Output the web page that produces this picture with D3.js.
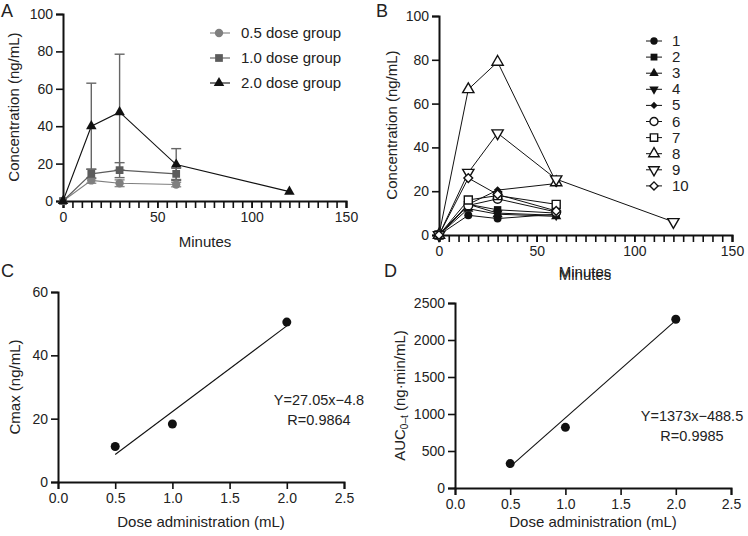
<!DOCTYPE html>
<html>
<head>
<meta charset="utf-8">
<script src="https://cdn.jsdelivr.net/npm/d3@7"></script>
<style>
  body { margin: 0; background: #fff; }
  text { font-family: "Liberation Sans", Arial, sans-serif; fill: #222; }
</style>
</head>
<body>
<svg id="chart" width="748" height="536"></svg>
<script>
// ---- panel A: group means +/- SD
const timesA = [0, 15, 30, 60, 120];
const groupNames = ["0.5 dose group", "1.0 dose group", "2.0 dose group"];
const mean05 = [0, 11, 9.5, 8.8];
const sd05 = [0, 1.5, 1.8, 1.2];
const mean10 = [0, 14.5, 16.5, 14.5];
const sd10 = [0, 2.5, 4, 3];
const mean20 = [0, 40, 47.5, 19.5, 5];
const sd20 = [0, 23, 31, 8.5, 0];

// ---- panel B: individual animals
const timesB = [0, 15, 30, 60, 120];
const subjects = ["1", "2", "3", "4", "5", "6", "7", "8", "9", "10"];
const s1 = [0, 9, 7.5, 9.5];
const s2 = [0, 14, 11.5, 10];
const s3 = [0, 12, 9.5, 8.5];
const s4 = [0, 14, 10, 9];
const s5 = [0, 14, 20.5, 23.5];
const s6 = [0, 13.5, 16.5, 10.5];
const s7 = [0, 16, 18, 14];
const s8 = [0, 66.5, 79, 24];
const s9 = [0, 28.5, 46.5, 25.5, 6];
const s10 = [0, 26, 18.5, 11];

// ---- panels C / D: dose relations
const doses = [0.5, 1.0, 2.0];
const cmax = [11.2, 18.3, 50.5];
const auc = [330, 820, 2280];
const fitC = [8.7, 49.3];     // fitted line at dose 0.5 and 2.0
const fitD = [290, 2265];
const eqC = ["Y=27.05x\u22124.8", "R=0.9864"];
const eqD = ["Y=1373x\u2212488.5", "R=0.9985"];

const svg = d3.select("#chart");
const FS = 14;      // tick labels
const LS = 15;      // axis titles, legends

function axes(g, x, y, xt, yt, xfmt, minor) {
  const ax = g.append("g").attr("transform", `translate(0,${y.range()[0]})`)
    .call(d3.axisBottom(x).tickValues(xt).tickFormat(xfmt).tickSizeOuter(0).tickSize(7).tickPadding(4));
  if (minor) {
    g.append("g").attr("transform", `translate(0,${y.range()[0]})`)
      .call(d3.axisBottom(x).tickValues(minor).tickFormat("").tickSizeOuter(0).tickSize(7))
      .call(s => s.select(".domain").remove());
  }
  const ay = g.append("g").attr("transform", `translate(${x.range()[0]},0)`)
    .call(d3.axisLeft(y).tickValues(yt).tickFormat(d3.format("d")).tickSizeOuter(0).tickSize(7).tickPadding(3));
  [ax, ay].forEach(a => {
    a.select(".domain").attr("stroke", "#111").attr("stroke-width", 2);
    a.selectAll(".tick text").style("font-size", FS + "px").attr("fill", "#222");
  });
  g.selectAll(".tick line").attr("stroke", "#111").attr("stroke-width", 1.6);
}

function sym(type, size) { return d3.symbol().type(type).size(size)(); }

function panelLetter(t, x, y) {
  svg.append("text").attr("x", x).attr("y", y).text(t).style("font-size", "18px");
}

// ================= A =================
{
  const g = svg.append("g");
  const x = d3.scaleLinear().domain([0, 150]).range([63, 346]);
  const y = d3.scaleLinear().domain([0, 100]).range([201, 14]);
  axes(g, x, y, [0, 50, 100, 150], [0, 20, 40, 60, 80, 100], d3.format("d"), d3.range(0, 151, 5));

  const groups = [
    { m: mean05, sd: sd05, col: "#7f7f7f", bar: "#8a8a8a", shape: d3.symbolCircle, size: 55 },
    { m: mean10, sd: sd10, col: "#5c5c5c", bar: "#6a6a6a", shape: d3.symbolSquare, size: 60 },
    { m: mean20, sd: sd20, col: "#111", bar: "#666", shape: d3.symbolTriangle, size: 48 }
  ];
  const line = d3.line().x((d, i) => x(timesA[i])).y(d => y(d));
  // error bars
  groups.slice().reverse().forEach(gr => {
    gr.m.forEach((v, i) => {
      if (!gr.sd[i]) return;
      const xx = x(timesA[i]);
      [v + gr.sd[i], v - gr.sd[i]].forEach(e => {
        g.append("line").attr("x1", xx).attr("x2", xx).attr("y1", y(v)).attr("y2", y(e))
          .attr("stroke", gr.bar).attr("stroke-width", 1.4);
        g.append("line").attr("x1", xx - 5).attr("x2", xx + 5).attr("y1", y(e)).attr("y2", y(e))
          .attr("stroke", gr.bar).attr("stroke-width", 1.4);
      });
    });
  });
  groups.forEach(gr => {
    g.append("path").attr("d", line(gr.m)).attr("fill", "none").attr("stroke", gr.col).attr("stroke-width", 1.1);
    g.selectAll(null).data(gr.m).enter().append("path")
      .attr("d", sym(gr.shape, gr.size))
      .attr("transform", (d, i) => `translate(${x(timesA[i])},${y(d)})`)
      .attr("fill", gr.col);
  });
  // legend
  groupNames.forEach((n, i) => {
    const ly = 33 + i * 25;
    g.append("line").attr("x1", 210).attr("x2", 230).attr("y1", ly).attr("y2", ly)
      .attr("stroke", groups[i].col).attr("stroke-width", 1.1);
    g.append("path").attr("d", sym(groups[i].shape, groups[i].size))
      .attr("transform", `translate(219,${ly})`).attr("fill", groups[i].col);
    g.append("text").attr("x", 241).attr("y", ly + 5).text(n).style("font-size", LS + "px");
  });
  g.append("text").attr("x", 205).attr("y", 247).attr("text-anchor", "middle").text("Minutes").style("font-size", LS + "px");
  g.append("text").attr("transform", "translate(19,107) rotate(-90)").attr("text-anchor", "middle")
    .text("Concentration (ng/mL)").style("font-size", LS + "px");
  panelLetter("A", 1, 17);
}

// ================= B =================
{
  const g = svg.append("g");
  const x = d3.scaleLinear().domain([0, 150]).range([439, 732]);
  const y = d3.scaleLinear().domain([0, 100]).range([235, 16]);
  axes(g, x, y, [0, 50, 100, 150], [0, 20, 40, 60, 80, 100], d3.format("d"), d3.range(0, 151, 5));

  const series = [s1, s2, s3, s4, s5, s6, s7, s8, s9, s10];
  const styles = [
    { t: d3.symbolCircle, s: 50, fill: true, r: 0 },
    { t: d3.symbolSquare, s: 55, fill: true, r: 0 },
    { t: d3.symbolTriangle, s: 45, fill: true, r: 0 },
    { t: d3.symbolTriangle, s: 45, fill: true, r: 180 },
    { t: d3.symbolSquare, s: 30, fill: true, r: 45 },
    { t: d3.symbolCircle, s: 60, fill: false, r: 0 },
    { t: d3.symbolSquare, s: 64, fill: false, r: 0 },
    { t: d3.symbolTriangle, s: 55, fill: false, r: 0 },
    { t: d3.symbolTriangle, s: 55, fill: false, r: 180 },
    { t: d3.symbolSquare, s: 38, fill: false, r: 45 }
  ];
  const line = d3.line().x((d, i) => x(timesB[i])).y(d => y(d));
  series.forEach(s => {
    g.append("path").attr("d", line(s)).attr("fill", "none").attr("stroke", "#111").attr("stroke-width", 1);
  });
  series.forEach((s, k) => {
    const st = styles[k];
    g.selectAll(null).data(s).enter().append("path")
      .attr("d", sym(st.t, st.s))
      .attr("transform", (d, i) => `translate(${x(timesB[i])},${y(d)}) rotate(${st.r})`)
      .attr("fill", st.fill ? "#111" : "#fff")
      .attr("stroke", "#111").attr("stroke-width", st.fill ? 0 : 1.4);
  });
  subjects.forEach((n, i) => {
    const ly = 41 + i * 16.1;
    const st = styles[i];
    g.append("line").attr("x1", 646).attr("x2", 662).attr("y1", ly).attr("y2", ly)
      .attr("stroke", "#111").attr("stroke-width", 1);
    g.append("path").attr("d", sym(st.t, st.s * 0.85))
      .attr("transform", `translate(654,${ly}) rotate(${st.r})`)
      .attr("fill", st.fill ? "#111" : "#fff")
      .attr("stroke", "#111").attr("stroke-width", st.fill ? 0 : 1.4);
    g.append("text").attr("x", 672).attr("y", ly + 5).text(n).style("font-size", LS + "px");
  });
  // the axis title appears twice, slightly offset
  [277, 280].forEach(yy => {
    g.append("text").attr("x", 585).attr("y", yy).attr("text-anchor", "middle").text("Minutes").style("font-size", LS + "px");
  });
  g.append("text").attr("transform", "translate(397,125) rotate(-90)").attr("text-anchor", "middle")
    .text("Concentration (ng/mL)").style("font-size", LS + "px");
  panelLetter("B", 376, 17);
}

// ================= C / D =================
function dosePanel(vals, fit, eq, box, yMax, yStep, eqPos, ylab, letter) {
  const g = svg.append("g");
  const x = d3.scaleLinear().domain([0, 2.5]).range([box.l, box.r]);
  const y = d3.scaleLinear().domain([0, yMax]).range([box.b, box.t]);
  axes(g, x, y, d3.range(0, 2.51, 0.5), d3.range(0, yMax + 1, yStep), d3.format(".1f"), null);
  g.append("line").attr("x1", x(doses[0])).attr("x2", x(doses[2]))
    .attr("y1", y(fit[0])).attr("y2", y(fit[1])).attr("stroke", "#111").attr("stroke-width", 1.1);
  g.selectAll(null).data(vals).enter().append("circle")
    .attr("cx", (d, i) => x(doses[i])).attr("cy", d => y(d)).attr("r", 4.5).attr("fill", "#111");
  eq.forEach((t, i) => {
    g.append("text").attr("x", eqPos[0]).attr("y", eqPos[1] + i * 20).attr("text-anchor", "middle")
      .text(t).style("font-size", "14.5px");
  });
  g.append("text").attr("x", (box.l + box.r) / 2).attr("y", 527).attr("text-anchor", "middle")
    .text("Dose administration (mL)").style("font-size", LS + "px");
  ylab(g, (box.t + box.b) / 2);
  panelLetter(letter[0], letter[1], 277);
}

dosePanel(cmax, fitC, eqC, { l: 58, r: 344, t: 292, b: 482 }, 60, 20, [319, 405],
  (g, cy) => g.append("text").attr("transform", `translate(20,${cy}) rotate(-90)`).attr("text-anchor", "middle")
    .text("Cmax (ng/mL)").style("font-size", LS + "px"),
  ["C", 1]);

dosePanel(auc, fitD, eqD, { l: 455, r: 731, t: 303, b: 488 }, 2500, 500, [692, 421],
  (g, cy) => {
    const t = g.append("text").attr("transform", `translate(405,${cy}) rotate(-90)`).attr("text-anchor", "middle")
      .style("font-size", LS + "px");
    t.append("tspan").text("AUC");
    t.append("tspan").attr("dy", 3).style("font-size", "10px").text("0\u2013t");
    t.append("tspan").attr("dy", -3).text(" (ng\u00b7min/mL)");
  },
  ["D", 384]);
</script>
</body>
</html>
